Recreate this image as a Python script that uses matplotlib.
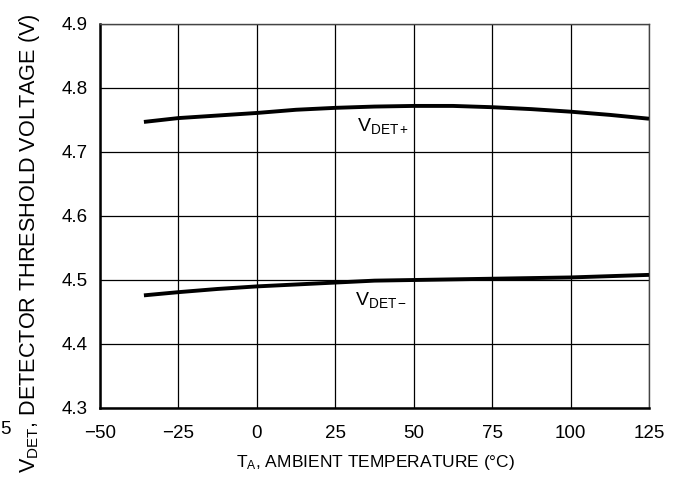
import matplotlib
matplotlib.use("Agg")
import matplotlib.pyplot as plt

plt.rcParams['font.family'] = ['Liberation Sans', 'DejaVu Sans']
plt.rcParams['mathtext.fontset'] = 'custom'
plt.rcParams['mathtext.rm'] = 'Liberation Sans'
plt.rcParams['mathtext.it'] = 'Liberation Sans'

# temperature (degC) and threshold voltages
temp = [-36, -25, -12.5, 0, 12.5, 25, 37.5, 50, 62.5, 75, 87.5, 100, 112.5, 125]
vdet_plus = [4.747, 4.753, 4.757, 4.761, 4.766, 4.769, 4.771, 4.772,
             4.772, 4.770, 4.767, 4.763, 4.758, 4.752]
vdet_minus = [4.476, 4.481, 4.486, 4.490, 4.493, 4.496, 4.499, 4.500,
              4.501, 4.502, 4.503, 4.504, 4.506, 4.508]

x_ticks = [-50, -25, 0, 25, 50, 75, 100, 125]
x_labels = ['\u221250', '\u221225', '0', '25', '50', '75', '100', '125']
y_ticks = [4.3, 4.4, 4.5, 4.6, 4.7, 4.8, 4.9]
y_labels = ['4.3', '4.4', '4.5', '4.6', '4.7', '4.8', '4.9']

W, H = 676, 482
fig = plt.figure(figsize=(W / 100, H / 100), dpi=100)
ax = fig.add_axes([100 / W, (H - 408) / H, 549 / W, 384 / H])

ax.plot(temp, vdet_plus, color='black', lw=2.8, solid_capstyle='butt', zorder=3)
ax.plot(temp, vdet_minus, color='black', lw=2.8, solid_capstyle='butt', zorder=3)

ax.set_xlim(-50, 125)
ax.set_ylim(4.3, 4.9)
ax.set_xticks(x_ticks)
ax.set_xticklabels(x_labels)
ax.set_yticks(y_ticks)
ax.set_yticklabels(y_labels)
ax.tick_params(length=0, labelsize=13.5)
ax.tick_params(axis='x', pad=12)
ax.tick_params(axis='y', pad=9)
ax.grid(True, color='black', lw=0.9, zorder=1)

for s in ['left', 'bottom']:
    ax.spines[s].set_linewidth(1.8)
for s in ['top', 'right']:
    ax.spines[s].set_linewidth(1.0)
    ax.spines[s].set_color('#444444')

box = dict(facecolor='white', edgecolor='none', pad=2)
ax.text(32, 4.7406, '$\\mathregular{V_{DET+}}$', fontsize=14, va='center',
        ha='left', bbox=box, zorder=2)
ax.text(31.3, 4.469, '$\\mathregular{V_{DET\u2212}}$', fontsize=14, va='center',
        ha='left', bbox=box, zorder=2)

fig.text(376 / W, 1 - 462 / H, '$\\mathregular{T_A}$, AMBIENT TEMPERATURE (\u00b0C)',
         fontsize=12.5, ha='center', va='center')
fig.text(30 / W, 1 - 243 / H, '$\\mathregular{V_{DET}}$, DETECTOR THRESHOLD VOLTAGE (V)',
         fontsize=15.6, ha='center', va='center', rotation=90)
fig.text(5 / W, 1 - 430 / H, '5', fontsize=13.5, ha='center', va='center')

fig.savefig('out.png', dpi=100)
